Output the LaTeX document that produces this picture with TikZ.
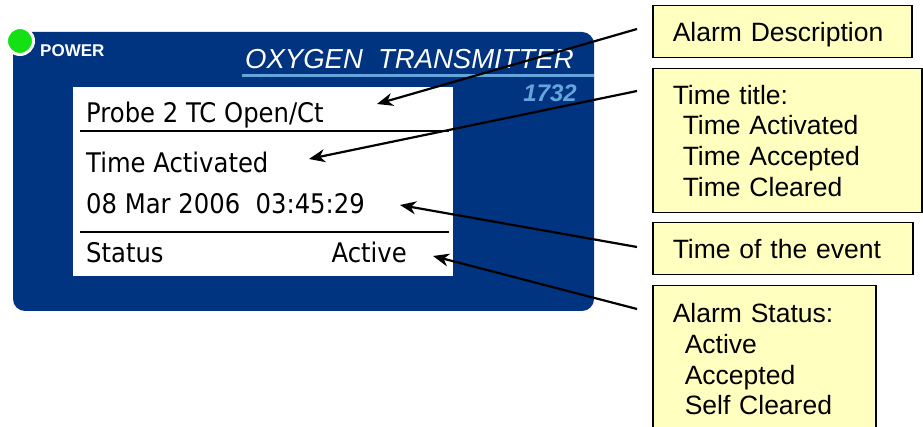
\documentclass[tikz,border=0pt]{standalone}
\usepackage{fontspec}
\setmainfont{Liberation Sans}
\newfontfamily\screenfont[FakeStretch=0.9]{DejaVu Sans}
\usetikzlibrary{arrows.meta}

\definecolor{panelblue}{RGB}{0,51,128}
\definecolor{lineblue}{RGB}{100,165,220}
\definecolor{ledgreen}{RGB}{20,225,20}
\definecolor{noteyellow}{RGB}{255,255,192}

\tikzset{
  screentext/.style={anchor=base west, inner sep=0pt, font=\screenfont\fontsize{27}{31}\selectfont},
  note/.style={draw=black, line width=1.5pt, fill=noteyellow, anchor=north west, align=left,
    inner xsep=20pt, font=\fontsize{26.5}{30.7}\selectfont},
  pointer/.style={line width=2.2pt, -{Stealth[length=16pt, width=13pt, inset=5pt]}}
}

\begin{document}
\begin{tikzpicture}[x=1pt, y=-1pt]
        \useasboundingbox (0,0) rectangle (923,427);
        % transmitter front
        \fill[panelblue, rounded corners=12pt] (13,32) rectangle (594,311);
        \node[circle, fill=ledgreen, draw=white, line width=3pt, minimum size=27pt, inner sep=0pt] (led) at (20,41) {};
        \node[anchor=base west, inner sep=0pt, text=white, font=\bfseries\fontsize{17}{17}\selectfont] (power) at (40,57) {POWER};
        \node[anchor=base west, inner sep=0pt, text=white, font=\itshape\fontsize{27.5}{27.5}\selectfont] (title) at (245,69) {OXYGEN\ \ TRANSMITTER};
        \draw[lineblue, line width=3pt] (242,76) -- (594,76);
        \node[anchor=base east, inner sep=0pt, text=lineblue, font=\bfseries\itshape\fontsize{24}{24}\selectfont] (model) at (577,102) {1732};

        % display
        \fill[white] (73,87) rectangle (453,276);
        \node[screentext] (probe) at (86,123) {Probe 2 TC Open/Ct};
        \draw[line width=1.6pt] (80,131) -- (449,131);
        \node[screentext] (when) at (86,173) {Time Activated};
        \node[screentext] (stamp) at (86,214) {08 Mar 2006\ \ 03:45:29};
        \draw[line width=1.6pt] (80,232) -- (449,232);
        \node[screentext] (status) at (86,263) {Status};
        \node[screentext, anchor=base east] (state) at (407,263) {Active};

        % notes
        \node[note, text width=219pt, minimum height=52pt, text depth=0pt] (desc) at (652,5) {Alarm Description};
        \node[note, text width=229pt, minimum height=144pt] (titles) at (652,68)
          {Time title:\\ \hspace*{10pt}Time Activated\\ \hspace*{10pt}Time Accepted\\ \hspace*{10pt}Time Cleared};
        \node[note, text width=220pt, minimum height=52pt] (event) at (652,222) {Time of the event};
        \node[note, text width=183pt, minimum height=147pt] (states) at (652,285)
          {Alarm Status:\\ \hspace*{12pt}Active\\ \hspace*{12pt}Accepted\\ \hspace*{12pt}Self Cleared};

        % pointers
        \coordinate (descfrom) at (637,29);
        \coordinate (descto) at (377,104);
        \coordinate (titlesfrom) at (637,91);
        \coordinate (titlesto) at (309,159);
        \coordinate (eventfrom) at (637,247);
        \coordinate (eventto) at (400,205);
        \coordinate (statesfrom) at (637,309);
        \coordinate (statesto) at (433,256);
        \draw[pointer] (descfrom) -- (descto);
        \draw[pointer] (titlesfrom) -- (titlesto);
        \draw[pointer] (eventfrom) -- (eventto);
        \draw[pointer] (statesfrom) -- (statesto);
      \end{tikzpicture}
\end{document}
